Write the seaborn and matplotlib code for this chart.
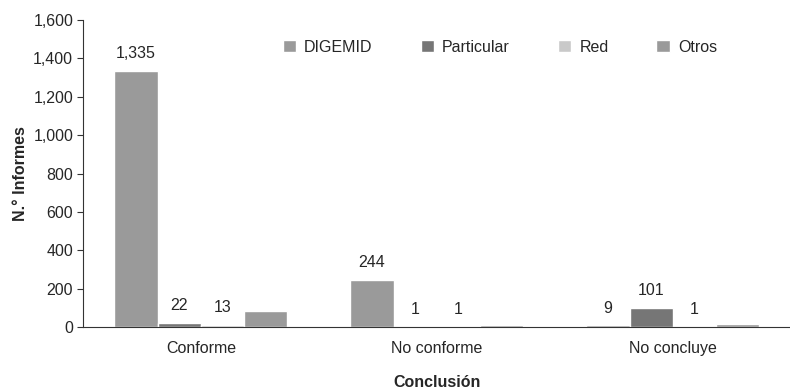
import pandas as pd
import numpy as np
from matplotlib import pyplot as plt
import seaborn as sns

# datos
conclusiones = ['Conforme', 'No conforme', 'No concluye']
digemid = [1335, 244, 9]
particular = [22, 1, 101]
red = [13, 1, 1]
otros = [85, 8, 15]
series = ['DIGEMID', 'Particular', 'Red', 'Otros']
colores = ['#9a9a9a', '#767676', '#c9c9c9', '#9a9a9a']

df = pd.DataFrame({
    'Conclusión': conclusiones * 4,
    'Fuente': [s for s in series for _ in conclusiones],
    'Informes': digemid + particular + red + otros,
})

sns.set_style('white')
plt.rcParams['font.family'] = ['Liberation Sans', 'DejaVu Sans']
fs = 11.5

fig = plt.figure(figsize=(7.9, 3.9), dpi=100)
ax = fig.add_axes([0.105, 0.1615, 0.896, 0.787])

sns.barplot(data=df, x='Conclusión', y='Informes', hue='Fuente',
            palette=colores, width=0.733, saturation=1, ax=ax, errorbar=None)

# etiquetas de cada barra (Otros sin etiqueta)
for cont, serie in zip(ax.containers[:3], [digemid, particular, red]):
    ax.bar_label(cont, labels=[f'{v:,}' for v in serie], padding=7, fontsize=fs)

ax.set_ylim(0, 1600)
ax.set_yticks(range(0, 1601, 200))
ax.set_yticklabels([f'{v:,}' for v in range(0, 1601, 200)], fontsize=fs)
ax.set_xlim(-0.5, 2.5)
ax.set_xticks([0, 1, 2])
ax.set_xticklabels(conclusiones, fontsize=fs)
ax.set_xticks([-0.5, 0.5, 1.5, 2.5], minor=True)
ax.tick_params(axis='x', which='major', length=0, pad=10)
ax.tick_params(axis='x', which='minor', length=4, direction='out', color='#333333', width=0.8)
ax.tick_params(axis='y', length=4, direction='out', color='#333333', width=0.8, left=True, pad=3)

ax.set_xlabel('Conclusión', fontsize=fs, fontweight='bold', labelpad=14)
ax.set_ylabel('N.° Informes', fontsize=fs, fontweight='bold', labelpad=4)

for s in ['top', 'right']:
    ax.spines[s].set_visible(False)
for s in ['left', 'bottom']:
    ax.spines[s].set_color('#333333')
    ax.spines[s].set_linewidth(0.8)

ax.legend(loc='center left', bbox_to_anchor=(0.282, 0.912), ncol=4, frameon=False,
          fontsize=fs, handlelength=0.85, handleheight=0.85, columnspacing=3.0,
          handletextpad=0.5, borderpad=0, borderaxespad=0)

plt.savefig('out.png')
